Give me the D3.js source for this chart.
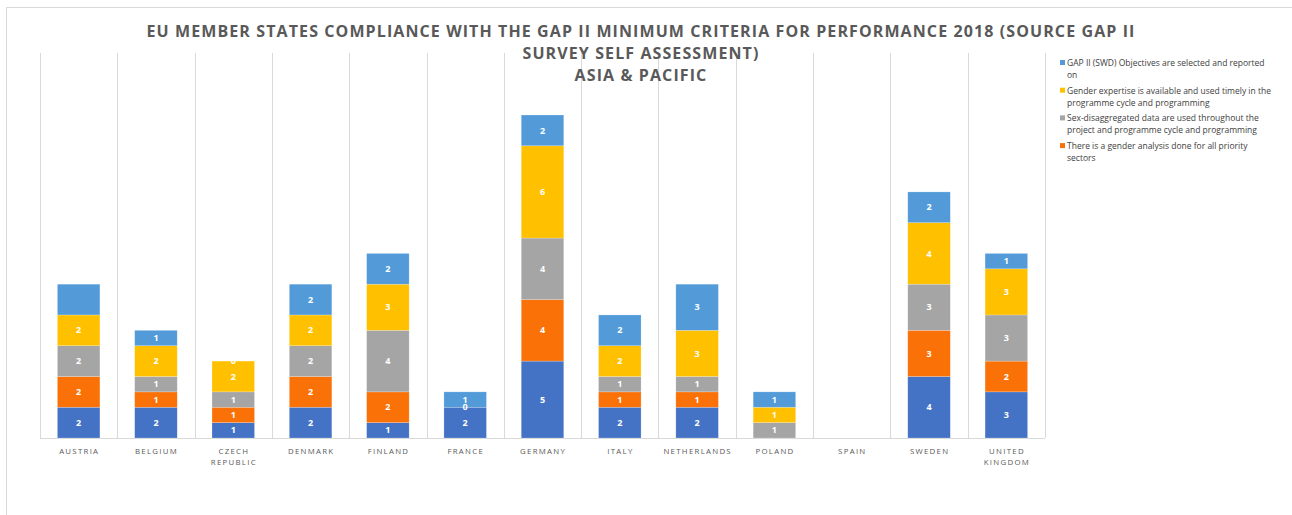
<!DOCTYPE html>
<html>
<head>
<meta charset="utf-8">
<script src="https://cdnjs.cloudflare.com/ajax/libs/d3/7.8.5/d3.min.js"></script>
<style>
  body { margin: 0; background: #fff; }
  svg { font-family: "Open Sans", "Liberation Sans", sans-serif; }
</style>
</head>
<body>
<div id="chart"></div>
<script>
const width = 1292;
const height = 515;

const countries = ["AUSTRIA", "BELGIUM", "CZECH REPUBLIC", "DENMARK", "FINLAND", "FRANCE", "GERMANY",
    "ITALY", "NETHERLANDS", "POLAND", "SPAIN", "SWEDEN", "UNITED KINGDOM"];

// stacked bottom to top
const leadershipValues = [2, 2, 1, 2, 1, 2, 5, 2, 2, 0, 0, 4, 3];
const analysisValues   = [2, 1, 1, 2, 2, 0, 4, 1, 1, 0, 0, 3, 2];
const sexDataValues    = [2, 1, 1, 2, 4, 0, 4, 1, 1, 1, 0, 3, 3];
const expertiseValues  = [2, 2, 2, 2, 3, 0, 6, 2, 3, 1, 0, 4, 3];
const objectivesValues = [2, 1, 0, 2, 2, 1, 2, 2, 3, 1, 0, 2, 1];

const series = [
    { key: "lead", values: leadershipValues, color: "#4472c4" },
    { key: "analysis", values: analysisValues, color: "#fa7108" },
    { key: "sexdata", values: sexDataValues, color: "#a5a5a5" },
    { key: "expertise", values: expertiseValues, color: "#ffc000" },
    { key: "objectives", values: objectivesValues, color: "#529bd8" }
];

const legendItems = [
    { lines: ["GAP II (SWD) Objectives are selected and reported", "on"], color: "#529bd8" },
    { lines: ["Gender expertise is available and used timely in the", "programme cycle and programming"], color: "#ffc000" },
    { lines: ["Sex-disaggregated  data are used throughout the", "project and programme cycle and programming"], color: "#a5a5a5" },
    { lines: ["There is a gender analysis done for all priority", "sectors"], color: "#fa7108" }
];

const titleLines = ["EU MEMBER STATES COMPLIANCE WITH THE GAP II MINIMUM  CRITERIA  FOR PERFORMANCE 2018 (SOURCE GAP II",
    "SURVEY SELF ASSESSMENT)", "ASIA & PACIFIC"];

const rows = countries.map((c, i) => {
    const row = { country: c };
    series.forEach(s => row[s.key] = s.values[i]);
    return row;
});

const stack = d3.stack().keys(series.map(s => s.key))(rows);

const svg = d3.select("#chart").append("svg")
    .attr("width", width)
    .attr("height", height);

// outer frame
svg.append("rect")
    .attr("x", 6.5).attr("y", 7.5)
    .attr("width", 1300).attr("height", 520)
    .attr("fill", "none")
    .attr("stroke", "#d9d9d9");

const plotLeft = 40, plotRight = 1045, plotTop = 53, baseY = 438;

const x = d3.scaleBand().domain(countries).range([plotLeft, plotRight]).paddingInner(0.45).paddingOuter(0.225);
const y = d3.scaleLinear().domain([0, 21]).range([baseY, 115]);

// vertical grid lines at band boundaries
const bounds = d3.range(countries.length + 1).map(i => plotLeft + i * (plotRight - plotLeft) / countries.length);
svg.append("g").selectAll("line")
    .data(bounds)
    .enter().append("line")
    .attr("x1", d => Math.round(d) + 0.5).attr("x2", d => Math.round(d) + 0.5)
    .attr("y1", plotTop).attr("y2", baseY)
    .attr("stroke", "#d9d9d9").attr("stroke-width", 1);

svg.append("line")
    .attr("x1", plotLeft).attr("x2", plotRight)
    .attr("y1", baseY + 0.5).attr("y2", baseY + 0.5)
    .attr("stroke", "#d9d9d9");

// bars
const colorByKey = {};
series.forEach(s => colorByKey[s.key] = s.color);

const layers = svg.append("g").selectAll("g")
    .data(stack)
    .enter().append("g")
    .attr("fill", d => colorByKey[d.key]);

layers.selectAll("rect")
    .data(d => d)
    .enter().append("rect")
    .attr("x", d => x(d.data.country))
    .attr("width", x.bandwidth())
    .attr("y", d => y(d[1]))
    .attr("height", d => y(d[0]) - y(d[1]))
    .attr("stroke", "#ffffff")
    .attr("stroke-opacity", 0.35)
    .attr("stroke-width", 0.6);

// data labels: zero segments drawn once per position, none at the baseline,
// Austria's top segment has no label in the original
const seen = new Set();
const labels = [];
stack.forEach(layer => {
    layer.forEach(d => {
        const v = d[1] - d[0];
        if (layer.key === "objectives" && d.data.country === "AUSTRIA") return;
        if (v === 0) {
            const id = d.data.country + ":" + d[0];
            if (d[0] === 0 || seen.has(id)) return;
            seen.add(id);
        }
        labels.push({ country: d.data.country, y0: d[0], y1: d[1], v: v });
    });
});

svg.append("g").selectAll("text")
    .data(labels)
    .enter().append("text")
    .attr("x", d => x(d.country) + x.bandwidth() / 2)
    .attr("y", d => (y(d.y0) + y(d.y1)) / 2)
    .attr("dy", "0.35em")
    .attr("text-anchor", "middle")
    .attr("font-size", 9)
    .attr("font-weight", "bold")
    .attr("fill", "#ffffff")
    .text(d => d.v);

// x axis labels
const xLabels = svg.append("g").selectAll("text")
    .data(countries)
    .enter().append("text")
    .attr("x", d => x(d) + x.bandwidth() / 2)
    .attr("y", 454)
    .attr("text-anchor", "middle")
    .attr("font-size", 7.8)
    .attr("letter-spacing", "1.3px")
    .attr("fill", "#595959");
xLabels.each(function(d) {
    const words = d.split(" ");
    const t = d3.select(this);
    words.forEach((w, i) => {
        t.append("tspan")
            .attr("x", x(d) + x.bandwidth() / 2 + 0.6)
            .attr("dy", i === 0 ? 0 : 11)
            .text(w);
    });
});

// title
svg.append("g").selectAll("text")
    .data(titleLines)
    .enter().append("text")
    .attr("x", 641)
    .attr("y", (d, i) => 37 + i * 22)
    .attr("text-anchor", "middle")
    .attr("font-size", 16)
    .attr("font-weight", "bold")
    .attr("fill", "#595959")
    .attr("letter-spacing", "1.1px")
    .text(d => d);

// legend
const legend = svg.append("g").attr("transform", "translate(1060, 60)");
const legendRows = legend.selectAll("g")
    .data(legendItems)
    .enter().append("g")
    .attr("transform", (d, i) => `translate(0, ${i * 27.7})`);
legendRows.append("rect")
    .attr("x", 0).attr("y", 0)
    .attr("width", 5).attr("height", 5)
    .attr("fill", d => d.color);
legendRows.each(function(d) {
    d3.select(this).selectAll("text")
        .data(d.lines)
        .enter().append("text")
        .attr("x", 7)
        .attr("y", (l, i) => 6 + i * 12)
        .attr("font-size", 8.5)
        .attr("fill", "#404040")
        .text(l => l);
});
</script>
</body>
</html>
